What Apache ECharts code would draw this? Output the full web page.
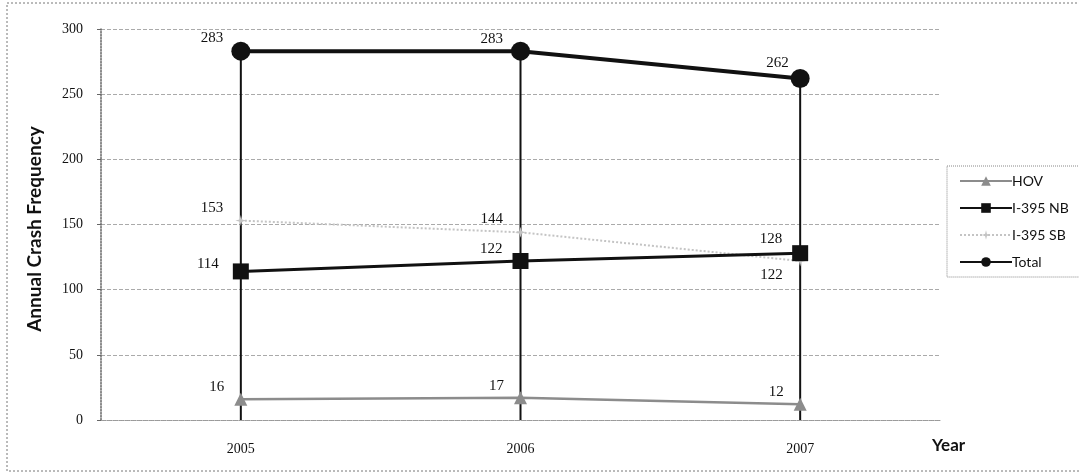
<!DOCTYPE html>
<html>
<head>
<meta charset="utf-8">
<script src="https://cdn.jsdelivr.net/npm/echarts@6/dist/echarts.min.js"></script>
<style>
  html, body { margin: 0; padding: 0; background: #fff; }
  #main { width: 1079px; height: 475px; }
</style>
</head>
<body>
<div id="main"></div>
<script>
var years = ['2005', '2006', '2007'];
var hov = [16, 17, 12];
var nb = [114, 122, 128];
var sb = [153, 144, 122];
var total = [283, 283, 262];
var yTicks = [0, 50, 100, 150, 200, 250, 300];

var chart = echarts.init(document.getElementById('main'));
var serif = '"Liberation Serif", "DejaVu Serif", serif';
var sans = 'Lato, "Open Sans", sans-serif';

// attach per-point label offsets to plain values
function withOffsets(vals, offsets) {
  return vals.map(function (v, i) {
    return { value: v, label: { offset: offsets[i] } };
  });
}

var labelBase = {
  show: true,
  position: 'left',
  fontFamily: serif,
  fontSize: 15,
  color: '#111'
};

var option = {
  backgroundColor: '#fff',
  animation: false,
  grid: { left: 101, right: 139, top: 29, bottom: 55 },
  graphic: [
    {
      type: 'rect',
      shape: { x: 7, y: 3, width: 1090, height: 468 },
      style: { fill: 'none', stroke: '#777', lineWidth: 1, lineDash: [2, 2] }
    },
    {
      type: 'text',
      left: 932,
      top: 437,
      style: { text: 'Year', font: 'bold 17px ' + sans, fill: '#111' }
    }
  ],
  legend: {
    orient: 'vertical',
    left: 947,
    top: 166,
    data: ['HOV', 'I-395 NB', 'I-395 SB', 'Total'],
    itemWidth: 52,
    itemHeight: 12,
    itemGap: 13,
    padding: [8, 30, 8, 12],
    borderColor: '#888',
    borderWidth: 1,
    borderType: 'dotted',
    textStyle: { fontFamily: sans, fontSize: 14, color: '#111', padding: [0, 0, 0, -5] }
  },
  xAxis: {
    type: 'category',
    data: years,
    boundaryGap: true,
    axisLine: { show: true, lineStyle: { color: '#999', type: 'dotted' } },
    axisTick: { show: false },
    axisLabel: { margin: 22, fontFamily: serif, fontSize: 14, color: '#111' },
    splitLine: { show: false }
  },
  yAxis: {
    type: 'value',
    min: 0,
    max: 300,
    interval: 50,
    name: 'Annual Crash Frequency',
    nameLocation: 'middle',
    nameGap: 57,
    nameTextStyle: { fontFamily: sans, fontSize: 19, fontWeight: 'bold', color: '#111', padding: [0, 0, 0, -9] },
    axisLine: { show: true, lineStyle: { color: '#666', type: 'dotted', width: 1.5 } },
    axisTick: { show: true, length: 4, lineStyle: { color: '#666' } },
    axisLabel: {
      margin: 18,
      fontFamily: serif,
      fontSize: 14,
      color: '#111',
      formatter: function (v) { return yTicks.indexOf(v) >= 0 ? String(v) : ''; }
    },
    splitLine: { show: true, lineStyle: { color: '#aaa', type: 'dashed', width: 1 } }
  },
  series: [
    {
      name: 'drop',
      type: 'bar',
      data: total,
      barWidth: 2,
      itemStyle: { color: '#111' },
      silent: true,
      z: 1
    },
    {
      name: 'HOV',
      type: 'line',
      data: withOffsets(hov, [[0, -12], [0, -12], [0, -12]]),
      symbol: 'triangle',
      symbolSize: 13,
      itemStyle: { color: '#8c8c8c' },
      lineStyle: { color: '#8c8c8c', width: 2.5 },
      label: Object.assign({}, labelBase, { distance: 10 }),
      z: 3
    },
    {
      name: 'I-395 NB',
      type: 'line',
      data: withOffsets(nb, [[-4, -7], [0, -12], [0, -14]]),
      symbol: 'rect',
      symbolSize: 16,
      itemStyle: { color: '#111' },
      lineStyle: { color: '#111', width: 3 },
      label: Object.assign({}, labelBase, { distance: 10 }),
      z: 4
    },
    {
      name: 'I-395 SB',
      type: 'line',
      data: withOffsets(sb, [[0, -13], [0, -13], [0, 14]]),
      symbol: 'path://M5 0 L6 4 L10 5 L6 6 L5 10 L4 6 L0 5 L4 4 Z',
      symbolSize: 11,
      itemStyle: { color: '#c4c4c4' },
      lineStyle: { color: '#c4c4c4', width: 2, type: 'dotted' },
      label: Object.assign({}, labelBase, { distance: 12 }),
      z: 2
    },
    {
      name: 'Total',
      type: 'line',
      data: withOffsets(total, [[0, -13], [0, -12], [6, -15]]),
      symbol: 'circle',
      symbolSize: 19,
      itemStyle: { color: '#111' },
      lineStyle: { color: '#111', width: 4 },
      label: Object.assign({}, labelBase, { distance: 8 }),
      z: 5
    }
  ]
};
chart.setOption(option);
</script>
</body>
</html>
